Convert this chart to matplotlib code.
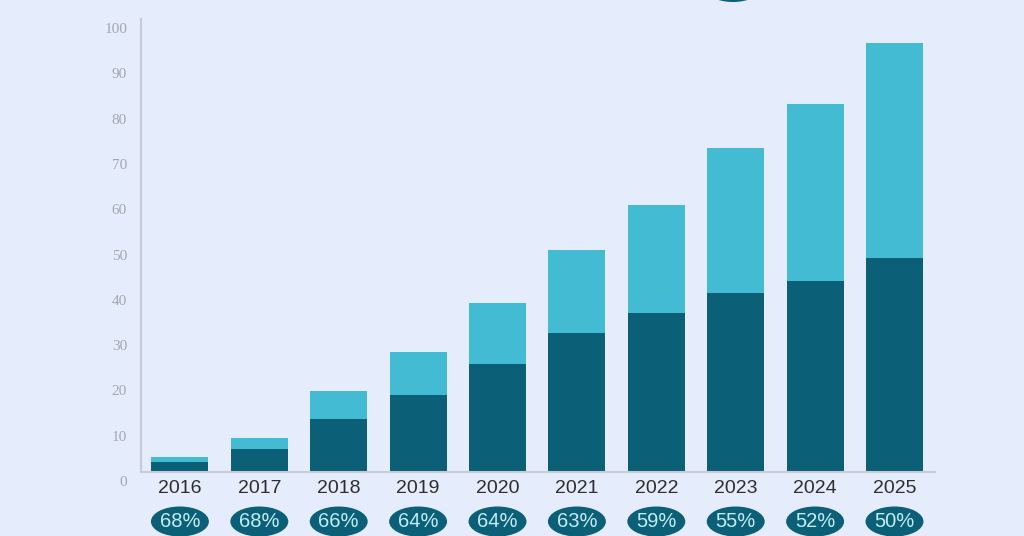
import matplotlib
matplotlib.use("Agg")
import matplotlib.pyplot as plt
import matplotlib.transforms as mtransforms
from matplotlib.patches import Ellipse
import numpy as np

# values
years = ["2016", "2017", "2018", "2019", "2020", "2021", "2022", "2023", "2024", "2025"]
totals = [3.4, 7.4, 17.9, 26.5, 37.4, 49.1, 59.0, 71.5, 81.2, 94.6]
dark_part = [2.3, 5.1, 11.8, 17.1, 23.9, 30.7, 35.0, 39.5, 42.1, 47.3]
shares = ["68%", "68%", "66%", "64%", "64%", "63%", "59%", "55%", "52%", "50%"]
yticks = [0, 10, 20, 30, 40, 50, 60, 70, 80, 90, 100]

BG = "#e5ecfb"
DARK = "#0b5f77"
LIGHT = "#43bbd2"

fig = plt.figure(figsize=(10.24, 5.36), dpi=100, facecolor=BG)
ax = fig.add_axes([141 / 1024, 64 / 536, (935 - 141) / 1024, (472 - 19) / 536])
ax.set_facecolor(BG)

x = np.arange(len(years))
light_part = [t - d for t, d in zip(totals, dark_part)]
ax.bar(x, dark_part, width=0.72, color=DARK, zorder=2)
ax.bar(x, light_part, width=0.72, bottom=dark_part, color=LIGHT, zorder=2)

ax.set_xlim(-0.49, 9.51)
ax.set_ylim(0, 100)

for side in ["top", "right"]:
    ax.spines[side].set_visible(False)
for side in ["left", "bottom"]:
    ax.spines[side].set_color("#c6cbd6")
    ax.spines[side].set_linewidth(1.5)

ax.set_xticks(x)
ax.set_xticklabels(years, fontsize=14, color="#2e2e2e", family="Liberation Sans")
ax.tick_params(axis="x", length=0, pad=6)

ax.set_yticks(yticks)
ax.set_yticklabels([str(v) for v in yticks], fontsize=11, color="#a3a7b0",
                   family="Liberation Serif")
ax.tick_params(axis="y", length=0, pad=10)
# tick labels sit a little below their values in the original
shift = mtransforms.ScaledTranslation(0, -9 / 100, fig.dpi_scale_trans)
for lab in ax.get_yticklabels():
    lab.set_transform(lab.get_transform() + shift)

# share badges under the years
trans = ax.get_xaxis_transform()
for xi, s in zip(x, shares):
    ell = Ellipse((xi, -49.5 / 453), 0.73, 30 / 453, transform=trans,
                  facecolor=DARK, edgecolor="none", clip_on=False)
    ax.add_patch(ell)
    ax.text(xi, -49.5 / 453, s, transform=trans, ha="center", va="center",
            fontsize=14.5, color="#c4ecf5", family="Liberation Sans", clip_on=False)

# sliver of a badge cut off at the top edge
top = Ellipse((733 / 1024, (536 + 13) / 536), 58 / 1024, 30 / 536,
              transform=fig.transFigure, facecolor=DARK, edgecolor="none")
fig.patches.append(top)

fig.savefig("out.png", dpi=100, facecolor=BG)
